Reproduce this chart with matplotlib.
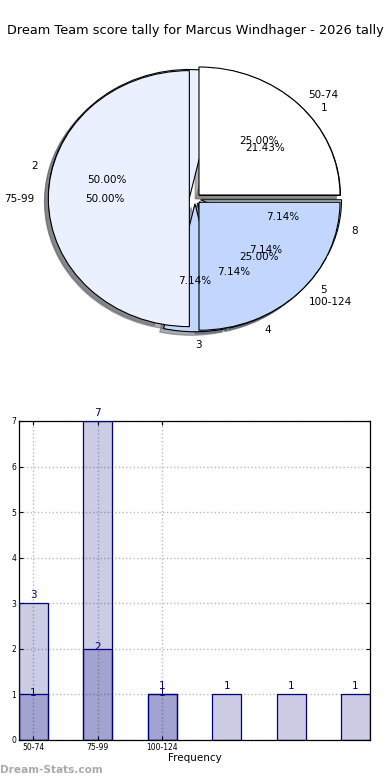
import numpy as np
import matplotlib
matplotlib.use("Agg")
import matplotlib.pyplot as plt

title = "Dream Team score tally for Marcus Windhager - 2026 tally"

# score ranges (outer pie / dark bars)
range_labels = ["50-74", "75-99", "100-124"]
range_counts = [1, 2, 1]

# tally values (second pie / light bars)
tally_labels = ["1", "2", "3", "4", "5", "8"]
tally_counts = [3, 7, 1, 1, 1, 1]

range_colors = ["#ffffff", "#eaf0fe", "#c3d7fe"]
tally_colors = ["#ffffff", "#eaf0fe", "#c3d7fe", "#c3d7fe", "#c3d7fe", "#c8dfe0"]

fig = plt.figure(figsize=(3.9, 7.8), dpi=100)
fig.text(0.5, 0.961, title, ha="center", va="center", fontsize=9.3)

# pies
ax1 = fig.add_axes([0.03, 0.532, 0.94, 0.4267])
wp = {"edgecolor": "black", "linewidth": 0.8}
shadow = {"ox": -0.02, "oy": -0.02, "shade": 0.6}
ax1.pie(tally_counts, labels=tally_labels, colors=tally_colors,
        explode=[0.04] * len(tally_counts), shadow=shadow,
        autopct="%.2f%%", wedgeprops=wp,
        textprops={"fontsize": 7.5})
ax1.pie(range_counts, labels=range_labels, colors=range_colors,
        explode=[0.04] * len(range_counts), shadow=shadow,
        autopct="%.2f%%", wedgeprops=wp,
        textprops={"fontsize": 7.5})
ax1.set_aspect("auto")
ax1.set_xlim(-1.3, 1.3)
ax1.set_ylim(-1.3, 1.3)
ax1.axis("off")

# bars
ax2 = fig.add_axes([0.0487, 0.0513, 0.9, 0.409])
x = np.arange(len(tally_counts))
w = 0.45
ax2.bar(x, tally_counts, width=w, color="navy", alpha=0.2, zorder=2)
ax2.bar(x, tally_counts, width=w, facecolor="none", edgecolor="navy", linewidth=0.9, zorder=3)
xr = np.arange(len(range_counts))
ax2.bar(xr, range_counts, width=w, color="navy", alpha=0.2, zorder=2)
ax2.bar(xr, range_counts, width=w, facecolor="none", edgecolor="navy", linewidth=0.9, zorder=3)

for xi, v in zip(x, tally_counts):
    ax2.annotate(str(v), (xi, v), xytext=(0, 6), textcoords="offset points",
                 ha="center", va="center", color="navy", fontsize=7.5)
for xi, v in zip(xr, range_counts):
    ax2.annotate(str(v), (xi, v), xytext=(0, 1), textcoords="offset points",
                 ha="center", va="center", color="navy", fontsize=7.5)

ax2.set_xlim(-w / 2, len(tally_counts) - 1 + w / 2)
ax2.set_ylim(0, 7)
ax2.set_yticks(range(8))
ax2.set_xticks(xr)
ax2.set_xticklabels(range_labels)
ax2.tick_params(labelsize=5.5, direction="in", top=True, right=True, length=3, pad=2)
ax2.grid(True, linestyle=":", color="#bbbbbb", linewidth=1.0, zorder=0)
ax2.set_axisbelow(True)
ax2.set_xlabel("Frequency", fontsize=7.5, labelpad=1)
for s in ax2.spines.values():
    s.set_linewidth(0.9)

fig.text(0.0, 0.013, "Dream-Stats.com", ha="left", va="center",
         fontsize=7.6, color="#aaaaaa", fontweight="bold")

fig.savefig("out.png", dpi=100)
